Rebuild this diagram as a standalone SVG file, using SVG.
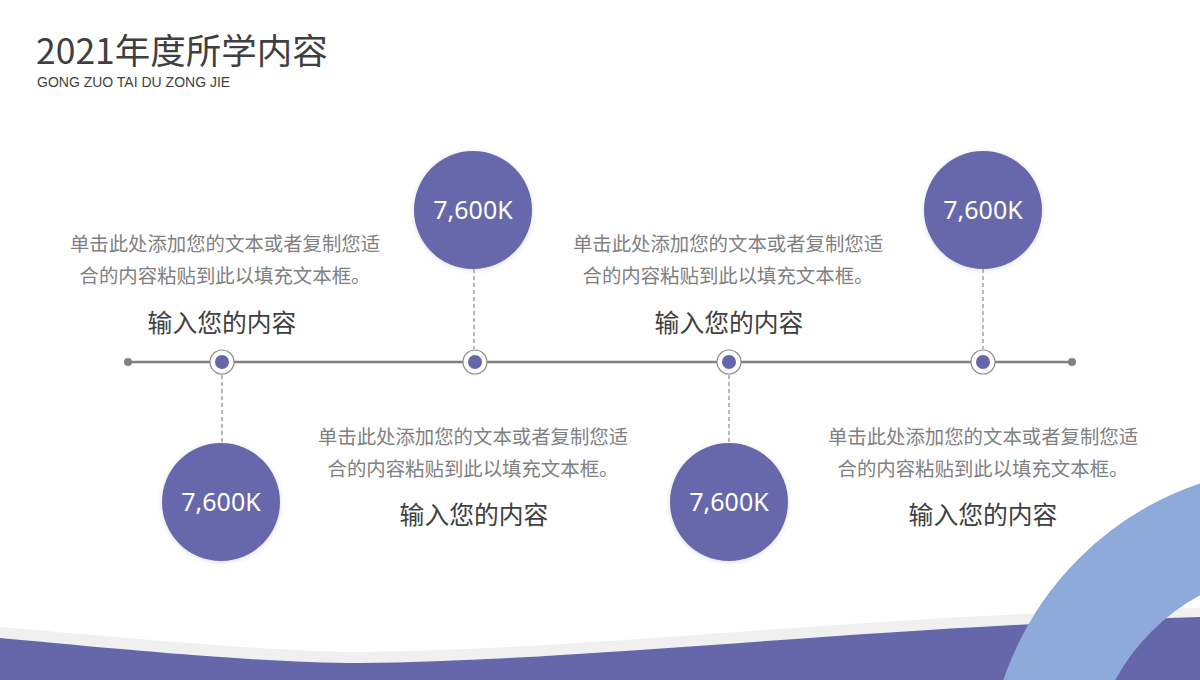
<svg xmlns="http://www.w3.org/2000/svg" width="1200" height="680" viewBox="0 0 1200 680">
<defs>
<style>
.t{font-family:"Noto Sans","Noto Sans CJK SC",sans-serif}
.title{font-family:"Noto Sans CJK SC","Noto Sans",sans-serif;font-size:35.5px;fill:#3f3f3f}
.sub{font-family:"Liberation Sans","Noto Sans",sans-serif;font-size:14px;fill:#3f3f3f}
.body{font-size:19.4px;fill:#808080;text-anchor:middle}
.head{font-size:24.8px;fill:#404040;text-anchor:middle}
.num{font-size:25px;fill:#ffffff;text-anchor:middle}
.big{fill:#6667ab}
.ring{fill:#ffffff;stroke:#8c8c8c;stroke-width:1.2}
.dot{fill:#6667ab}
.dash{stroke:#8c8c8c;stroke-width:1.2;stroke-dasharray:4 3;fill:none}
</style>
<filter id="sh" x="-20%" y="-20%" width="140%" height="140%">
<feDropShadow dx="0" dy="1" stdDeviation="2" flood-color="#6667ab" flood-opacity="0.25"/>
</filter>
</defs>
<rect width="1200" height="680" fill="#ffffff"/>
<g id="background">
<path d="M0,627 C150,640 280,652 360,652 C600,650 850,615 1200,608 L1200,680 L0,680 Z" fill="#f0f0f0"/>
<path d="M0,638 C150,652 270,663 360,663 C600,660 850,628 1200,617 L1200,680 L0,680 Z" fill="#6667ab"/>
<circle cx="1300" cy="780" r="261.5" fill="none" stroke="#8eaadb" stroke-width="103"/>
</g>
<g id="title">
<text class="title" x="36" y="63.5">2021年度所学内容</text>
<text class="sub" x="37" y="87">GONG ZUO TAI DU ZONG JIE</text>
</g>
<g id="connectors">
<line x1="128" y1="362" x2="1072" y2="362" stroke="#808080" stroke-width="2.5"/>
<circle cx="128" cy="362" r="4" fill="#808080"/>
<circle cx="1072" cy="362" r="4" fill="#808080"/>
<line class="dash" x1="222" y1="375" x2="222" y2="443"/>
<line class="dash" x1="474" y1="269" x2="474" y2="349"/>
<line class="dash" x1="729" y1="375" x2="729" y2="443"/>
<line class="dash" x1="983" y1="269" x2="983" y2="349"/>
</g>
<g id="node1">
<circle class="ring" cx="222" cy="362" r="12"/>
<circle class="dot" cx="222" cy="362" r="7"/>
<circle class="big" cx="221" cy="502" r="59" filter="url(#sh)"/>
<text class="t num" x="221" y="511">7,600K</text>
<text class="t body" x="225" y="251">单击此处添加您的文本或者复制您适</text>
<text class="t body" x="225" y="283">合的内容粘贴到此以填充文本框。</text>
<text class="t head" x="222" y="332">输入您的内容</text>
</g>
<g id="node2">
<circle class="ring" cx="475" cy="362" r="12"/>
<circle class="dot" cx="475" cy="362" r="7"/>
<circle class="big" cx="473" cy="210" r="59" filter="url(#sh)"/>
<text class="t num" x="473" y="219">7,600K</text>
<text class="t body" x="473" y="444">单击此处添加您的文本或者复制您适</text>
<text class="t body" x="473" y="476">合的内容粘贴到此以填充文本框。</text>
<text class="t head" x="474" y="524">输入您的内容</text>
</g>
<g id="node3">
<circle class="ring" cx="729" cy="362" r="12"/>
<circle class="dot" cx="729" cy="362" r="7"/>
<circle class="big" cx="729" cy="502" r="59" filter="url(#sh)"/>
<text class="t num" x="729" y="511">7,600K</text>
<text class="t body" x="728" y="251">单击此处添加您的文本或者复制您适</text>
<text class="t body" x="728" y="283">合的内容粘贴到此以填充文本框。</text>
<text class="t head" x="729" y="332">输入您的内容</text>
</g>
<g id="node4">
<circle class="ring" cx="983" cy="362" r="12"/>
<circle class="dot" cx="983" cy="362" r="7"/>
<circle class="big" cx="983" cy="210" r="59" filter="url(#sh)"/>
<text class="t num" x="983" y="219">7,600K</text>
<text class="t body" x="983" y="444">单击此处添加您的文本或者复制您适</text>
<text class="t body" x="983" y="476">合的内容粘贴到此以填充文本框。</text>
<text class="t head" x="983" y="524">输入您的内容</text>
</g>
</svg>
